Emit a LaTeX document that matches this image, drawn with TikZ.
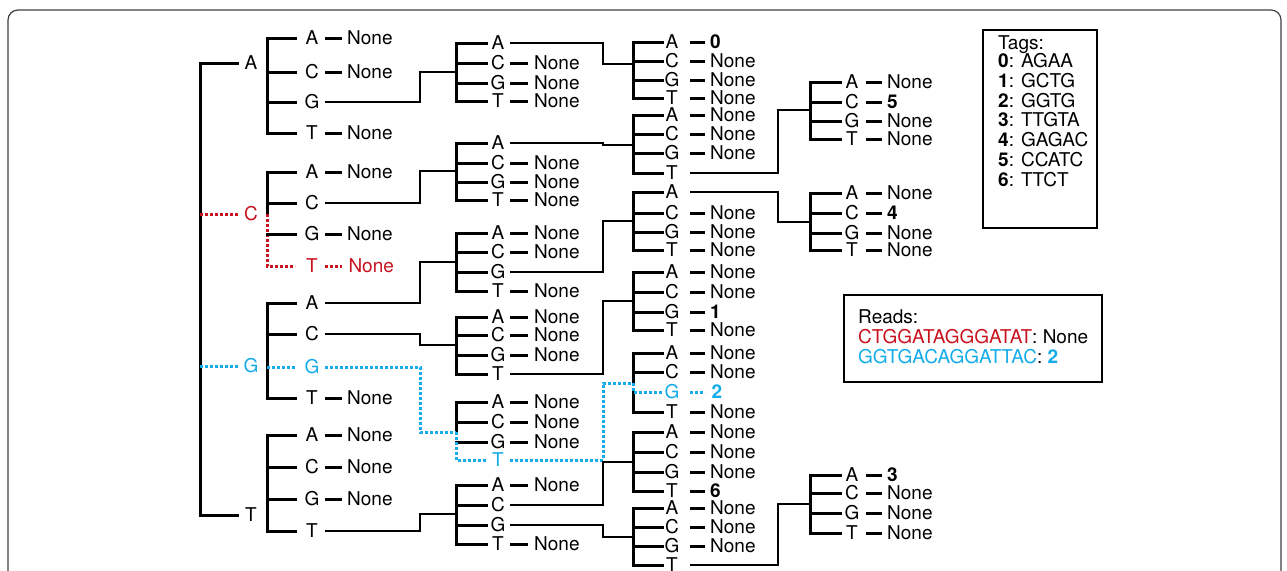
\documentclass[tikz,border=0pt]{standalone}
\usepackage{fontspec}
\setmainfont{TeX Gyre Heros}
\usetikzlibrary{calc}
\definecolor{rd}{RGB}{200,18,30}
\definecolor{bl}{RGB}{20,172,232}
\tikzset{
  lab/.style={inner sep=0pt, text height=13.7pt, text depth=0pt},
  tree/.style={line width=3pt, line cap=rect},
  conn/.style={line width=2.3pt},
  dsh/.style={line width=3pt},
  dotr/.style={rd, line width=3pt, dash pattern=on 2.6pt off 2.4pt},
  dotb/.style={bl, line width=3pt, dash pattern=on 2.6pt off 2.4pt},
  boxline/.style={line width=1.5pt},
}
\newcommand\resetl{\def\lA{A}\def\lC{C}\def\lG{G}\def\lT{T}}
\newcommand\grp[7]{%
  \node[lab] (#1-A) at (#3,#4) {\lA};
  \node[lab] (#1-C) at (#3,#5) {\lC};
  \node[lab] (#1-G) at (#3,#6) {\lG};
  \node[lab] (#1-T) at (#3,#7) {\lT};
  \coordinate (#1-top) at (#2,#4);
  \coordinate (#1-bot) at (#2,#7);
  \resetl}
\newcommand\tk[3][tree]{\draw[#1] (#2-top |- #2-#3) -- ([xshift=-\tko]#2-#3.center);}
\newcommand\tks[2]{\foreach \L in {#2}{\tk{#1}{\L}}}
\newcommand\lf[3][]{%
  \draw[dsh,#1] ([xshift=\dso]#2.center) -- ([xshift=\deo]#2.center);
  \node[lab,anchor=west,#1] (#2-v) at ([xshift=\vo]#2.center) {#3};}
\newcommand\cn[5][conn]{%
  \coordinate (cs) at ([xshift=#3]#2.center);
  \draw[#1] (cs) -- (cs -| #4) -- (#4 |- #5) -- (#5);}
\begin{document}
\begin{tikzpicture}[x=1pt,y=-1pt,font=\fontsize{19}{23}\selectfont]
\useasboundingbox (0,0) rectangle (1287,570);
\fill[white] (0,0) rectangle (1287,570);
\clip (0,0) rectangle (1287,570);
\resetl
% outer frame
\draw[line width=1.2pt, black!75, rounded corners=10pt] (8,10) rectangle (1281,650);

% ---------- level 1 ----------
\node[lab] (r-A) at (251,63) {A};
\node[lab,rd] (r-C) at (251,214) {C};
\node[lab,bl] (r-G) at (251,366) {G};
\node[lab] (r-T) at (251,515) {T};
\coordinate (root-top) at (200,63);
\coordinate (root-bot) at (200,515);
\draw[tree] (root-top) -- (root-bot);
\draw[tree] (root-top) -- ([xshift=-14pt]r-A.center);
\draw[tree] (root-bot) -- ([xshift=-14pt]r-T.center);
\draw[dotr] (root-top |- r-C) -- ([xshift=-12pt]r-C.center);
\draw[dotb] (root-top |- r-G) -- ([xshift=-12pt]r-G.center);

% ---------- level 2 ----------
\def\tko{17pt}\def\dso{13pt}\def\deo{30pt}\def\vo{35pt}
\grp{gA}{267}{312}{38}{72}{102}{133}
\draw[tree] (gA-top) -- (gA-bot);
\tks{gA}{A,C,G,T}
\lf{gA-A}{None}\lf{gA-C}{None}\lf{gA-T}{None}

\def\lT{\textcolor{rd}{T}}
\grp{gC}{267}{312}{172}{203}{234}{266}
\coordinate (gC-j) at (gC-top |- r-C);
\draw[tree] (gC-top) -- (gC-j);
\draw[dotr] (gC-j) -- (gC-bot) -- ([xshift=-\tko]gC-T.center);
\tks{gC}{A,C,G}
\lf{gC-A}{None}\lf{gC-G}{None}\lf[dotr]{gC-T}{None}

\def\lG{\textcolor{bl}{G}}
\grp{gG}{267}{312}{303}{334}{367}{398}
\draw[tree] (gG-top) -- (gG-bot);
\tks{gG}{A,C,T}
\draw[dotb] (gG-top |- gG-G) -- ([xshift=-\tko]gG-G.center);
\lf{gG-T}{None}

\grp{gT}{267}{312}{435}{467}{499}{531}
\draw[tree] (gT-top) -- (gT-bot);
\tks{gT}{A,C,G,T}
\lf{gT-A}{None}\lf{gT-C}{None}\lf{gT-G}{None}

% ---------- level 3 ----------
\def\tko{12pt}\def\dso{12pt}\def\deo{30pt}\def\vo{36pt}
\coordinate (J2) at (420,0);
\grp{h1}{456}{498}{43}{63}{83}{101}
\coordinate (h1-in) at (456,72);
\draw[tree] (h1-top) -- (h1-bot); \tks{h1}{A,C,G,T}
\lf{h1-C}{None}\lf{h1-G}{None}\lf{h1-T}{None}

\grp{h2}{456}{498}{143}{163}{182}{200}
\coordinate (h2-in) at (456,171);
\draw[tree] (h2-top) -- (h2-bot); \tks{h2}{A,C,G,T}
\lf{h2-C}{None}\lf{h2-G}{None}\lf{h2-T}{None}

\grp{h3}{456}{498}{233}{252}{272}{291}
\coordinate (h3-in) at (456,262);
\draw[tree] (h3-top) -- (h3-bot); \tks{h3}{A,C,G,T}
\lf{h3-A}{None}\lf{h3-C}{None}\lf{h3-T}{None}

\grp{h4}{456}{498}{317}{335}{355}{374}
\coordinate (h4-in) at (456,345);
\draw[tree] (h4-top) -- (h4-bot); \tks{h4}{A,C,G,T}
\lf{h4-A}{None}\lf{h4-C}{None}\lf{h4-G}{None}

\def\lT{\textcolor{bl}{T}}
\grp{h5}{456}{498}{402}{422}{442}{460}
\coordinate (h5-in) at (456,432);
\draw[tree] (h5-top) -- (h5-in); \tks{h5}{A,C,G}
\draw[dotb] (h5-in) -- (h5-bot) -- ([xshift=-\tko]h5-T.center);
\lf{h5-A}{None}\lf{h5-C}{None}\lf{h5-G}{None}

\grp{h6}{456}{498}{485}{505}{525}{544}
\coordinate (h6-in) at (456,514);
\draw[tree] (h6-top) -- (h6-bot); \tks{h6}{A,C,G,T}
\lf{h6-A}{None}\lf{h6-T}{None}

% connectors level 2 -> 3
\cn{gA-G}{13pt}{J2}{h1-in}
\cn{gC-C}{13pt}{J2}{h2-in}
\cn{gG-A}{13pt}{J2}{h3-in}
\cn{gG-C}{13pt}{J2}{h4-in}
\cn[dotb]{gG-G}{13pt}{J2}{h5-in}
\cn{gT-T}{13pt}{J2}{h6-in}

% ---------- level 4 ----------
\def\tko{10pt}\def\dso{18pt}\def\deo{33pt}\def\vo{38pt}
\coordinate (J3) at (603,0);
\grp{k1}{633}{672}{42}{61}{80}{98}
\coordinate (k1-in) at (633,64);
\draw[tree] (k1-top) -- (k1-bot); \tks{k1}{A,C,G,T}
\lf{k1-A}{\textbf{0}}\lf{k1-C}{None}\lf{k1-G}{None}\lf{k1-T}{None}

\grp{k2}{633}{672}{115}{134}{153}{173}
\coordinate (k2-in) at (633,145);
\draw[tree] (k2-top) -- (k2-bot); \tks{k2}{A,C,G,T}
\lf{k2-A}{None}\lf{k2-C}{None}\lf{k2-G}{None}

\grp{k3}{633}{672}{192}{213}{232}{250}
\coordinate (k3-in) at (633,221);
\draw[tree] (k3-top) -- (k3-bot); \tks{k3}{A,C,G,T}
\lf{k3-C}{None}\lf{k3-G}{None}\lf{k3-T}{None}

\grp{k4}{633}{672}{272}{292}{312}{330}
\coordinate (k4-in) at (633,301);
\draw[tree] (k4-top) -- (k4-bot); \tks{k4}{A,C,G,T}
\lf{k4-A}{None}\lf{k4-C}{None}\lf{k4-G}{\textbf{1}}\lf{k4-T}{None}

\def\lG{\textcolor{bl}{G}}
\grp{k5}{633}{672}{353}{372}{392}{412}
\coordinate (k5-in) at (633,383);
\coordinate (k5-j) at (k5-top |- k5-G);
\draw[tree] (k5-top) -- (k5-in);
\draw[tree] (k5-j) -- (k5-bot);
\draw[dotb] (k5-in) -- (k5-j) -- ([xshift=-\tko]k5-G.center);
\tks{k5}{A,C,T}
\lf{k5-A}{None}\lf{k5-C}{None}\lf[dotb]{k5-G}{\textbf{2}}\lf{k5-T}{None}

\grp{k6}{633}{672}{432}{452}{472}{491}
\coordinate (k6-in) at (633,462);
\draw[tree] (k6-top) -- (k6-bot); \tks{k6}{A,C,G,T}
\lf{k6-A}{None}\lf{k6-C}{None}\lf{k6-G}{None}\lf{k6-T}{\textbf{6}}

\grp{k7}{633}{672}{508}{527}{546}{565}
\coordinate (k7-in) at (633,537);
\draw[tree] (k7-top) -- (k7-bot); \tks{k7}{A,C,G,T}
\lf{k7-A}{None}\lf{k7-C}{None}\lf{k7-G}{None}

% connectors level 3 -> 4
\cn{h1-A}{12pt}{J3}{k1-in}
\cn{h2-A}{12pt}{J3}{k2-in}
\cn{h3-G}{12pt}{J3}{k3-in}
\cn{h4-T}{12pt}{J3}{k4-in}
\cn[dotb]{h5-T}{12pt}{J3}{k5-in}
\cn{h6-C}{12pt}{J3}{k6-in}
\cn{h6-G}{12pt}{J3}{k7-in}

% ---------- level 5 ----------
\def\tko{12pt}\def\dso{14pt}\def\deo{30pt}\def\vo{35pt}
\coordinate (J4) at (778,0);
\grp{m1}{810}{852}{82}{102}{121}{139}
\coordinate (m1-in) at (810,110);
\draw[tree] (m1-top) -- (m1-bot); \tks{m1}{A,C,G,T}
\lf{m1-A}{None}\lf{m1-C}{\textbf{5}}\lf{m1-G}{None}\lf{m1-T}{None}

\grp{m2}{810}{852}{193}{213}{233}{250}
\coordinate (m2-in) at (810,222);
\draw[tree] (m2-top) -- (m2-bot); \tks{m2}{A,C,G,T}
\lf{m2-A}{None}\lf{m2-C}{\textbf{4}}\lf{m2-G}{None}\lf{m2-T}{None}

\grp{m3}{810}{852}{475}{493}{513}{533}
\coordinate (m3-in) at (810,504);
\draw[tree] (m3-top) -- (m3-bot); \tks{m3}{A,C,G,T}
\lf{m3-A}{\textbf{3}}\lf{m3-C}{None}\lf{m3-G}{None}\lf{m3-T}{None}

% connectors level 4 -> 5
\cn{k2-T}{18pt}{J4}{m1-in}
\cn{k3-A}{18pt}{J4}{m2-in}
\cn{k7-T}{18pt}{J4}{m3-in}

% ---------- Tags box ----------
\draw[boxline] (983,30) rectangle (1097,228);
\node[lab,anchor=west] (tg) at (998,43) {Tags:};
\node[lab,anchor=west] (t0) at (998,61) {\textbf{0}: AGAA};
\node[lab,anchor=west] (t1) at (998,80.7) {\textbf{1}: GCTG};
\node[lab,anchor=west] (t2) at (998,100.4) {\textbf{2}: GGTG};
\node[lab,anchor=west] (t3) at (998,120.1) {\textbf{3}: TTGTA};
\node[lab,anchor=west] (t4) at (998,139.8) {\textbf{4}: GAGAC};
\node[lab,anchor=west] (t5) at (998,159.5) {\textbf{5}: CCATC};
\node[lab,anchor=west] (t6) at (998,179.2) {\textbf{6}: TTCT};

% ---------- Reads box ----------
\draw[boxline] (844,295) rectangle (1102,382);
\node[lab,anchor=west] (rh) at (858,317) {Reads:};
\node[lab,anchor=west] (r1) at (858,337) {\textcolor{rd}{CTGGATAGGGATAT}: None};
\node[lab,anchor=west] (r2) at (858,357) {\textcolor{bl}{GGTGACAGGATTAC}: \textcolor{bl}{\textbf{2}}};
\end{tikzpicture}
\end{document}
